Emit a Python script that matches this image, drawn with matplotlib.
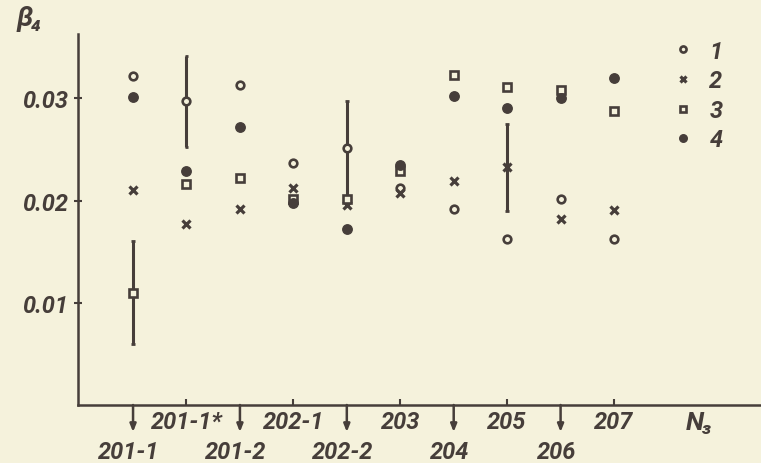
import numpy as np
import matplotlib
matplotlib.use('Agg')
from matplotlib import pyplot as plt

# samples along N3 axis
labels = ['201-1', '201-1*', '201-2', '202-1', '202-2', '203', '204', '205', '206', '207']
arrowed = [True, False, True, False, True, False, True, False, True, False]

# beta_4 values for the four series
s1 = [0.0322, 0.0297, 0.0313, 0.0237, 0.0251, 0.0212, 0.0192, 0.0162, 0.0202, 0.0162]
s2 = [0.0210, 0.0177, 0.0192, 0.0212, 0.0196, 0.0207, 0.0219, 0.0233, 0.0182, 0.0191]
s3 = [0.0110, 0.0216, 0.0222, 0.0202, 0.0202, 0.0229, 0.0323, 0.0311, 0.0308, 0.0288]
s4 = [0.0301, 0.0229, 0.0272, 0.0198, 0.0172, 0.0235, 0.0302, 0.0291, 0.0300, 0.0320]

# error bars (category index, low, high)
err_idx = [0, 1, 4, 7]
err_lo = [0.0060, 0.0252, 0.0202, 0.0190]
err_hi = [0.0160, 0.0341, 0.0297, 0.0275]

yticks = [0.01, 0.02, 0.03]
ytick_labels = ['0.01', '0.02', '0.03']

bg = '#f5f2dc'
ink = '#463e3a'
plt.rcParams['font.family'] = ['Roboto', 'DejaVu Sans']
plt.rcParams['font.style'] = 'italic'
plt.rcParams['font.weight'] = 'bold'
fs = 17

fig = plt.figure(figsize=(7.61, 4.64), dpi=100, facecolor=bg)
ax = fig.add_axes([78/761, (464-406)/464, (761-78)/761, (406-35)/464])
ax.set_facecolor(bg)

x = np.arange(len(labels))
ax.set_xlim(-1.03, 11.75)
ax.set_ylim(0, 0.0363)

for s in ['top', 'right']:
    ax.spines[s].set_visible(False)
for s in ['left', 'bottom']:
    ax.spines[s].set_color(ink)
    ax.spines[s].set_linewidth(1.8)

ax.vlines(err_idx, err_lo, err_hi, color=ink, lw=2.2, zorder=2)
ax.hlines(err_lo + err_hi, np.array(err_idx + err_idx) - 0.035, np.array(err_idx + err_idx) + 0.035,
          color=ink, lw=2, zorder=2)

h1, = ax.plot(x, s1, 'o', ms=5.5, mfc=bg, mec=ink, mew=1.9, ls='none', zorder=3)
h2, = ax.plot(x, s2, 'x', ms=5.5, mec=ink, mew=2.3, ls='none', zorder=3)
h3, = ax.plot(x, s3, 's', ms=5.3, mfc=bg, mec=ink, mew=1.9, ls='none', zorder=3)
h4, = ax.plot(x, s4, 'o', ms=6.8, mfc=ink, mec=ink, ls='none', zorder=3)

ax.set_yticks(yticks)
ax.set_yticklabels(ytick_labels)
ax.tick_params(axis='y', direction='inout', length=6, width=1.5, color=ink,
               labelcolor=ink, labelsize=fs, pad=4)

up = [i for i in x if not arrowed[i]]
ax.set_xticks(up)
ax.set_xticklabels([])
ax.tick_params(axis='x', direction='in', length=4, width=1.5, color=ink)

for i, lab in enumerate(labels):
    if arrowed[i]:
        ax.annotate('', xy=(i, -27/371), xycoords=('data', 'axes fraction'),
                    xytext=(i, 0), textcoords=('data', 'axes fraction'),
                    arrowprops=dict(arrowstyle='-|>,head_length=0.45,head_width=0.18',
                                    lw=1.8, color=ink, shrinkA=0, shrinkB=0),
                    annotation_clip=False)
        dy, dx = -47*0.72, -4*0.72
    else:
        dy, dx = -17*0.72, 0
    ax.annotate(lab, xy=(i, 0), xycoords=('data', 'axes fraction'),
                xytext=(dx, dy), textcoords='offset points', ha='center', va='center',
                fontsize=fs, color=ink, annotation_clip=False)

fig.text(30/761, 1 - 18/464, 'β₄', fontsize=20, color=ink, ha='center', va='center')
fig.text(700/761, 1 - 423/464, 'N₃', fontsize=19, color=ink, ha='center', va='center')

leg = ax.legend([h1, h2, h3, h4], ['1', '2', '3', '4'], loc='upper left',
                bbox_to_anchor=(0.876, 0.985), frameon=False, markerscale=0.8,
                handlelength=0.6, handletextpad=0.8, labelspacing=0.28,
                borderpad=0, borderaxespad=0, prop={'size': fs, 'style': 'italic', 'weight': 'bold'})
for t in leg.get_texts():
    t.set_color(ink)

fig.savefig('out.png', dpi=100, facecolor=bg)
